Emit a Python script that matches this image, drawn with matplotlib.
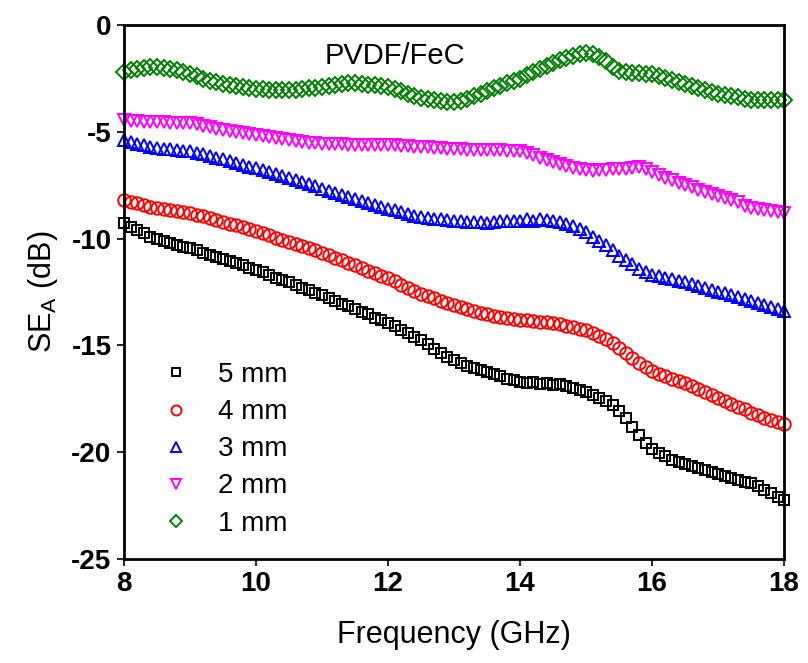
import numpy as np
import matplotlib
matplotlib.use("Agg")
import matplotlib.pyplot as plt

plt.rcParams['font.family'] = ['Liberation Sans', 'DejaVu Sans']
plt.rcParams['axes.unicode_minus'] = False

freq = np.round(np.arange(8.0, 18.0001, 0.1), 2)

se_5mm = [-9.25, -9.45, -9.6, -9.75, -9.9, -10.0, -10.1, -10.2, -10.3, -10.4,
          -10.45, -10.55, -10.65, -10.75, -10.85, -10.95, -11.05, -11.15, -11.25, -11.35,
          -11.45, -11.57, -11.7, -11.82, -11.93, -12.05, -12.17, -12.3, -12.42, -12.53,
          -12.65, -12.78, -12.9, -13.05, -13.17, -13.3, -13.43, -13.55, -13.7, -13.82,
          -13.95, -14.1, -14.27, -14.43, -14.6, -14.75, -14.95, -15.15, -15.35, -15.55,
          -15.7, -15.82, -15.95, -16.05, -16.15, -16.25, -16.35, -16.45, -16.55, -16.62,
          -16.7, -16.75, -16.72, -16.8, -16.78, -16.85, -16.8, -16.9, -17.0, -17.1,
          -17.2, -17.3, -17.45, -17.6, -17.8, -18.05, -18.4, -18.8, -19.2, -19.55,
          -19.85, -20.05, -20.2, -20.35, -20.45, -20.55, -20.65, -20.75, -20.85, -20.92,
          -21.0, -21.1, -21.2, -21.3, -21.4, -21.45, -21.6, -21.75, -21.9, -22.1,
          -22.25]

se_4mm = [-8.2, -8.27, -8.35, -8.42, -8.5, -8.55, -8.6, -8.65, -8.7, -8.75,
          -8.8, -8.87, -8.95, -9.03, -9.12, -9.2, -9.3, -9.38, -9.47, -9.56,
          -9.65, -9.75, -9.85, -9.95, -10.05, -10.15, -10.25, -10.35, -10.45, -10.55,
          -10.65, -10.77, -10.9, -11.0, -11.13, -11.25, -11.37, -11.5, -11.6, -11.73,
          -11.85, -12.0, -12.15, -12.3, -12.45, -12.6, -12.7, -12.8, -12.9, -13.0,
          -13.1, -13.2, -13.3, -13.38, -13.47, -13.55, -13.6, -13.67, -13.72, -13.76,
          -13.8, -13.83, -13.86, -13.9, -13.92, -13.95, -14.0, -14.08, -14.15, -14.22,
          -14.3, -14.42, -14.55, -14.7, -14.9, -15.1, -15.35, -15.6, -15.82, -16.02,
          -16.2, -16.32, -16.43, -16.55, -16.65, -16.75, -16.88, -17.03, -17.17, -17.3,
          -17.45, -17.6, -17.73, -17.87, -18.0, -18.15, -18.27, -18.4, -18.5, -18.6,
          -18.7]

se_3mm = [-5.4, -5.48, -5.55, -5.62, -5.7, -5.75, -5.78, -5.82, -5.85, -5.88,
          -5.9, -5.97, -6.05, -6.12, -6.2, -6.25, -6.35, -6.45, -6.55, -6.62,
          -6.7, -6.8, -6.88, -6.97, -7.05, -7.15, -7.25, -7.35, -7.45, -7.55,
          -7.65, -7.75, -7.85, -7.95, -8.05, -8.15, -8.25, -8.35, -8.43, -8.52,
          -8.6, -8.68, -8.77, -8.85, -8.93, -9.0, -9.05, -9.08, -9.1, -9.13,
          -9.15, -9.18, -9.2, -9.22, -9.24, -9.25, -9.2, -9.18, -9.15, -9.18,
          -9.15, -9.1, -9.15, -9.1, -9.12, -9.15, -9.2, -9.3, -9.4, -9.55,
          -9.7, -9.9, -10.1, -10.3, -10.55, -10.8, -11.0, -11.2, -11.4, -11.55,
          -11.7, -11.77, -11.84, -11.9, -11.97, -12.05, -12.13, -12.22, -12.3, -12.4,
          -12.5, -12.55, -12.65, -12.72, -12.82, -12.9, -13.0, -13.1, -13.2, -13.3,
          -13.4]

se_2mm = [-4.45, -4.47, -4.5, -4.52, -4.53, -4.55, -4.55, -4.57, -4.58, -4.6,
          -4.6, -4.65, -4.72, -4.78, -4.85, -4.9, -4.95, -5.0, -5.05, -5.1,
          -5.15, -5.2, -5.25, -5.3, -5.35, -5.4, -5.43, -5.47, -5.5, -5.52,
          -5.55, -5.56, -5.57, -5.58, -5.59, -5.6, -5.6, -5.6, -5.6, -5.6,
          -5.6, -5.62, -5.65, -5.67, -5.7, -5.7, -5.72, -5.75, -5.77, -5.8,
          -5.8, -5.82, -5.83, -5.84, -5.85, -5.85, -5.85, -5.86, -5.87, -5.88,
          -5.9, -6.0, -6.1, -6.2, -6.3, -6.4, -6.5, -6.6, -6.7, -6.75,
          -6.8, -6.82, -6.8, -6.78, -6.75, -6.75, -6.72, -6.68, -6.65, -6.75,
          -6.9, -7.0, -7.15, -7.25, -7.4, -7.5, -7.6, -7.7, -7.8, -7.9,
          -8.0, -8.1, -8.2, -8.3, -8.45, -8.55, -8.6, -8.65, -8.7, -8.75,
          -8.8]

se_1mm = [-2.2, -2.12, -2.05, -2.0, -1.97, -1.97, -2.0, -2.05, -2.12, -2.2,
          -2.3, -2.4, -2.5, -2.6, -2.68, -2.75, -2.8, -2.85, -2.9, -2.94,
          -2.97, -3.0, -3.03, -3.05, -3.05, -3.05, -3.03, -3.0, -2.96, -2.93,
          -2.9, -2.85, -2.8, -2.76, -2.73, -2.72, -2.74, -2.78, -2.82, -2.86,
          -2.9, -3.0, -3.1, -3.2, -3.3, -3.4, -3.45, -3.5, -3.55, -3.58,
          -3.6, -3.55, -3.45, -3.3, -3.2, -3.1, -2.95, -2.85, -2.7, -2.6,
          -2.5, -2.35, -2.2, -2.05, -1.9, -1.75, -1.65, -1.55, -1.45, -1.35,
          -1.3, -1.35, -1.5, -1.7, -1.95, -2.15, -2.2, -2.25, -2.25, -2.28,
          -2.3, -2.38, -2.47, -2.57, -2.66, -2.75, -2.85, -2.95, -3.05, -3.12,
          -3.2, -3.26, -3.32, -3.38, -3.44, -3.5, -3.5, -3.5, -3.5, -3.5,
          -3.5]

labels = ["5 mm", "4 mm", "3 mm", "2 mm", "1 mm"]
colors = ["black", "red", "blue", "magenta", "green"]
markers = ["s", "o", "^", "v", "D"]
sizes = [7.5, 9, 9, 9, 8]
series = [se_5mm, se_4mm, se_3mm, se_2mm, se_1mm]

fig = plt.figure(figsize=(8.08, 6.63), dpi=100)
ax = fig.add_axes([0.1535, 0.157, 0.817, 0.805])

for y, lab, c, m, ms in zip(series, labels, colors, markers, sizes):
    ax.plot(freq, y, linestyle="none", marker=m, markersize=ms,
            markerfacecolor="none", markeredgecolor=c, markeredgewidth=1.4,
            label=lab, clip_on=False)

ax.set_xlim(8, 18)
ax.set_ylim(-25, 0)
ax.set_xticks([8, 10, 12, 14, 16, 18])
ax.set_yticks([0, -5, -10, -15, -20, -25])
for lbl in ax.get_xticklabels() + ax.get_yticklabels():
    lbl.set_fontweight("bold")
ax.tick_params(direction="out", length=5, width=1.2, labelsize=20, pad=4)
for s in ax.spines.values():
    s.set_linewidth(2)

ax.set_xlabel("Frequency (GHz)", fontsize=22, labelpad=16)
ax.set_ylabel("SE$_\\mathregular{A}$ (dB)", fontsize=22, labelpad=8)

ax.text(0.41, 0.943, "PVDF/FeC", transform=ax.transAxes, fontsize=21,
        ha="center", va="center")

ax.legend(loc="lower left", bbox_to_anchor=(0.02, -0.005), frameon=False,
          fontsize=20, handlelength=1.0, handletextpad=1.0, labelspacing=0.4,
          markerscale=0.8)

fig.savefig("out.png", dpi=100)
